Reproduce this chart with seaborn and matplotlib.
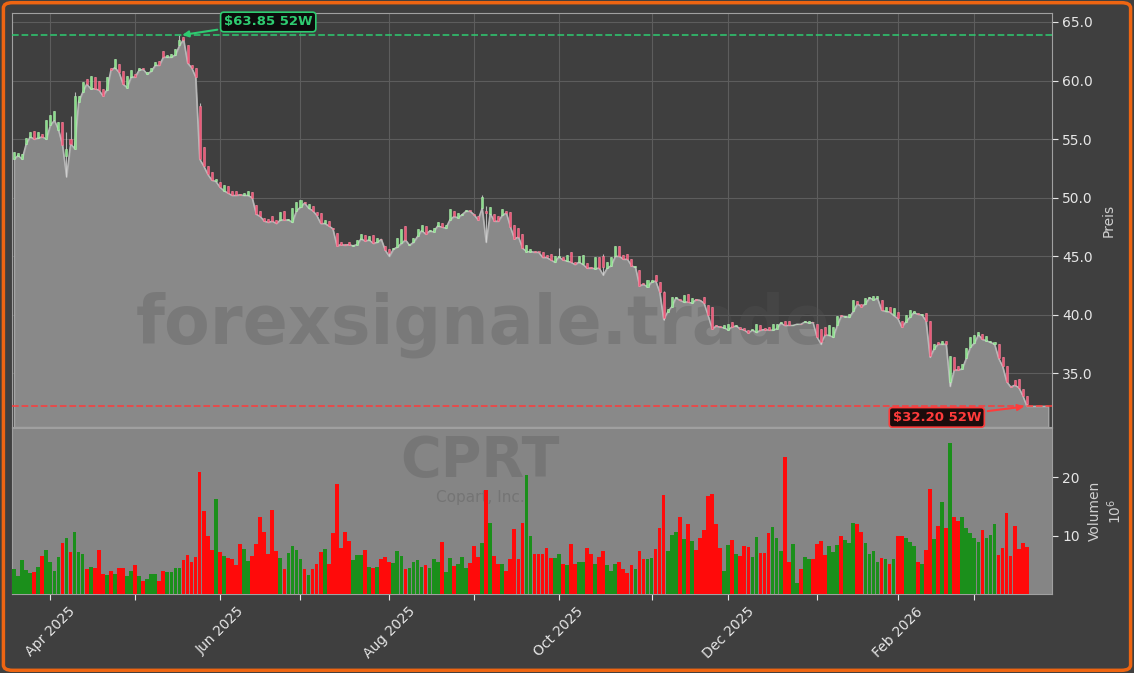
"""CPRT daily candles with volume panel, 52-week high/low marks."""
import matplotlib
matplotlib.use("Agg")
import matplotlib.pyplot as plt
import numpy as np
import pandas as pd
import seaborn as sns
from matplotlib.patches import FancyBboxPatch
from matplotlib.ticker import FuncFormatter, MultipleLocator

START, END = "2025-03-19", "2026-03-19"
HOLIDAYS = ["2025-04-18", "2025-05-26", "2025-06-19", "2025-07-04",
            "2025-09-01", "2025-11-27", "2025-12-25", "2026-01-01",
            "2026-01-19", "2026-02-16"]

OPENS = [
    53.3, 53.6, 53.3, 54.6, 55.2, 55.7, 55.1, 55.4, 55.0, 56.2,
    56.6, 55.8, 56.5, 53.6, 55.0, 54.2, 58.2, 59.0, 60.1, 59.3,
    60.3, 60.0, 59.3, 59.2, 61.1, 61.1, 61.4, 60.8, 59.4, 60.3,
    60.6, 60.9, 61.05, 60.55, 60.8, 61.3, 61.7, 62.5, 62.0, 62.0,
    62.2, 63.0, 63.7, 63.0, 61.3, 61.1, 57.8, 54.3, 52.7, 52.2,
    51.4, 51.3, 50.6, 51.0, 50.6, 50.6, 50.35, 50.2, 50.2, 50.5,
    49.4, 48.9, 48.3, 48.2, 48.4, 48.1, 48.1, 48.9, 48.1, 47.9,
    48.9, 49.2, 49.65, 49.1, 49.3, 48.8, 48.7, 47.8, 48.0, 47.45,
    47.0, 46.2, 46.05, 46.2, 45.9, 46.0, 46.5, 46.8, 46.4, 46.85,
    46.2, 46.5, 45.9, 45.6, 45.6, 45.8, 46.1, 47.6, 45.95, 46.2,
    46.7, 47.2, 47.6, 47.15, 47.1, 47.6, 47.85, 47.4, 48.1, 48.85,
    48.3, 48.55, 48.85, 48.9, 48.65, 48.4, 49.1, 48.9, 48.65, 48.6,
    48.4, 48.5, 48.9, 48.8, 47.65, 47.4, 46.9, 45.4, 45.4, 45.45,
    45.4, 45.4, 45.15, 45.2, 44.5, 44.95, 44.95, 44.6, 45.4, 44.5,
    44.5, 44.3, 44.4, 44.1, 43.95, 44.9, 45.0, 44.0, 44.2, 45.0,
    45.9, 45.15, 45.2, 44.75, 44.05, 43.8, 42.7, 42.4, 42.8, 43.4,
    42.8, 41.95, 40.25, 40.7, 41.45, 41.35, 41.1, 41.75, 41.0, 41.35,
    41.3, 41.5, 40.8, 40.7, 39.15, 39.05, 38.9, 38.7, 39.4, 39.05,
    39.0, 38.9, 38.7, 38.7, 38.5, 39.1, 38.9, 39.0, 38.7, 38.8,
    39.3, 39.45, 39.45, 39.1, 39.2, 39.25, 39.4, 39.3, 39.4, 39.25,
    38.8, 39.0, 38.25, 38.1, 39.1, 39.95, 39.85, 39.8, 40.3, 41.2,
    40.9, 40.95, 41.45, 41.3, 41.4, 41.3, 40.3, 40.7, 39.95, 40.25,
    39.5, 39.4, 39.8, 40.2, 40.15, 40.0, 40.2, 39.5, 37.1, 37.7,
    37.5, 37.8, 34.3, 36.4, 35.6, 35.4, 36.3, 37.25, 37.6, 38.3,
    38.4, 37.8, 37.65, 37.5, 37.5, 36.4, 35.6, 33.95, 34.4, 34.5,
    33.7, 33.1,
]
CLOSES = [
    53.9, 53.8, 53.7, 55.1, 55.6, 55.0, 55.6, 55.2, 56.6, 57.1,
    57.4, 56.5, 54.5, 54.2, 54.6, 58.7, 58.7, 59.9, 59.7, 60.4,
    59.3, 59.2, 58.7, 60.3, 60.9, 61.8, 60.7, 59.7, 60.4, 60.9,
    60.3, 61.1, 60.95, 60.75, 61.1, 61.6, 61.3, 62.0, 62.2, 62.3,
    62.7, 63.5, 63.5, 61.5, 61.1, 60.3, 53.3, 52.7, 52.0, 51.5,
    51.6, 50.9, 51.1, 50.4, 50.2, 50.2, 50.25, 50.4, 50.6, 50.0,
    48.6, 48.4, 48.0, 47.9, 48.0, 47.8, 48.8, 48.1, 48.2, 49.1,
    49.6, 49.8, 49.55, 49.5, 48.9, 48.5, 47.8, 48.1, 47.6, 47.35,
    45.9, 46.0, 45.95, 46.0, 46.0, 46.4, 46.9, 46.3, 46.7, 46.1,
    46.6, 46.45, 45.5, 45.3, 45.7, 46.6, 47.3, 46.4, 46.05, 46.6,
    47.3, 47.7, 46.9, 47.25, 47.4, 47.9, 47.5, 47.7, 49.0, 48.4,
    48.7, 48.65, 48.95, 48.85, 48.55, 48.1, 50.1, 48.7, 49.2, 48.0,
    48.0, 49.0, 48.7, 47.5, 46.5, 46.65, 45.7, 45.95, 45.65, 45.35,
    45.35, 44.9, 44.9, 44.7, 45.0, 45.0, 44.7, 45.15, 44.5, 44.3,
    45.0, 45.1, 44.0, 44.0, 44.95, 44.0, 44.1, 44.5, 44.9, 45.9,
    45.0, 44.75, 44.75, 44.2, 44.2, 42.5, 42.6, 43.0, 43.0, 42.9,
    41.95, 39.7, 40.5, 41.5, 41.55, 41.25, 41.7, 41.1, 41.4, 41.3,
    41.25, 41.0, 39.95, 38.8, 39.05, 38.95, 39.1, 39.2, 39.0, 39.1,
    38.8, 38.7, 38.45, 38.75, 39.25, 38.7, 38.75, 38.7, 39.2, 39.25,
    39.35, 39.1, 39.1, 39.15, 39.25, 39.2, 39.45, 39.5, 39.35, 38.1,
    37.7, 38.3, 39.1, 38.95, 39.9, 39.9, 39.9, 40.1, 41.3, 40.95,
    40.7, 41.4, 41.5, 41.6, 41.6, 40.4, 40.65, 40.25, 40.6, 39.7,
    38.96, 39.95, 40.4, 40.3, 40.05, 40.1, 39.5, 36.5, 37.5, 37.5,
    37.8, 37.5, 36.5, 35.3, 35.3, 35.8, 37.2, 38.1, 38.3, 38.5,
    37.9, 38.2, 37.75, 37.7, 36.3, 35.6, 34.3, 33.85, 34.0, 33.8,
    33.1, 32.35,
]
# longer wicks that stand out in the picture: index -> price
WICK_HIGHS = {13: 55.6, 14: 57.0, 15: 59.0, 41: 63.85, 42: 63.75, 46: 58.1,
              116: 50.25, 117: 49.3, 135: 45.7, 146: 45.2, 161: 42.0}
WICK_LOWS = {13: 51.8, 93: 45.0, 117: 46.2, 146: 43.4, 161: 39.6,
             200: 37.5, 227: 36.4, 232: 33.9, 251: 32.2}

VOLUME_M = [
    4.2, 3.0, 5.8, 4.1, 3.6, 3.7, 4.7, 6.5, 7.5, 5.4,
    3.9, 6.4, 8.7, 9.55, 7.2, 10.6, 7.2, 6.9, 4.2, 4.7,
    4.4, 7.5, 3.5, 3.3, 4.0, 3.5, 4.4, 4.5, 3.0, 4.0,
    4.9, 3.0, 2.3, 2.5, 3.4, 3.5, 2.3, 4.0, 3.8, 3.8,
    4.5, 4.5, 5.8, 6.7, 5.4, 6.4, 20.9, 14.2, 10.0, 7.5,
    16.3, 7.2, 6.5, 6.2, 6.0, 4.9, 8.5, 7.7, 5.6, 6.5,
    8.5, 13.2, 10.6, 6.8, 14.4, 7.3, 6.2, 4.2, 7.0, 8.2,
    7.5, 5.9, 4.2, 3.2, 4.2, 5.1, 7.2, 7.7, 5.1, 10.4,
    18.8, 7.9, 10.6, 9.0, 5.75, 6.7, 6.7, 7.5, 4.7, 4.5,
    4.7, 6.0, 6.3, 5.5, 5.25, 7.3, 6.5, 4.2, 4.4, 5.4,
    5.75, 4.7, 4.9, 4.5, 5.9, 5.5, 8.9, 3.7, 6.2, 4.75,
    5.1, 6.4, 4.5, 5.25, 8.2, 6.4, 8.7, 17.8, 12.2, 6.5,
    5.2, 5.2, 3.9, 5.9, 11.1, 6.0, 12.1, 20.3, 9.9, 6.9,
    6.9, 6.9, 7.9, 6.2, 6.2, 6.9, 5.2, 4.9, 8.5, 5.2,
    5.4, 5.4, 7.9, 6.9, 5.2, 6.4, 7.3, 4.9, 3.9, 5.2,
    5.4, 4.2, 3.6, 5.0, 4.2, 7.3, 6.0, 5.9, 6.2, 7.7,
    11.2, 16.9, 7.3, 10.1, 10.6, 13.2, 9.4, 11.9, 9.05, 7.5,
    9.6, 10.9, 16.8, 17.1, 11.9, 7.9, 3.9, 8.4, 9.2, 6.9,
    6.5, 8.2, 8.0, 6.4, 9.7, 7.0, 7.0, 10.4, 11.4, 9.6,
    7.3, 23.5, 5.5, 8.5, 1.8, 4.2, 6.4, 6.0, 5.9, 8.5,
    9.05, 6.7, 8.2, 7.2, 8.4, 9.9, 9.2, 8.7, 12.2, 11.9,
    10.6, 8.7, 6.9, 7.4, 5.5, 6.2, 5.9, 5.2, 5.9, 9.9,
    9.9, 9.6, 8.9, 8.2, 5.4, 5.2, 7.5, 17.9, 9.4, 11.6,
    15.7, 11.2, 25.8, 13.1, 12.4, 13.2, 11.2, 10.4, 9.6, 8.9,
    10.9, 9.6, 10.1, 11.9, 6.7, 7.9, 13.9, 6.5, 11.6, 7.7,
    8.7, 8.0,
]

BG = "#3f3f3f"
FILL = "#898989"
UP, DOWN = "#86e286", "#f04f72"
VOL_UP, VOL_DOWN = "#1b8f1b", "#ff0a0a"
HI_COLOR, LO_COLOR = "#2ecc71", "#ff3b3b"
TEXT = "#e6e6e6"

W, H = 1134, 673


def fig_rect(left, top, right, bottom):
    return [left / W, 1 - bottom / H, (right - left) / W, (bottom - top) / H]


def main():
    dates = pd.bdate_range(START, END).difference(pd.to_datetime(HOLIDAYS))
    o = np.array(OPENS)
    c = np.array(CLOSES)
    vol = np.array(VOLUME_M)
    n = len(c)
    assert len(dates) == n == len(o) == len(vol)
    x = np.arange(n)
    hi = np.maximum(o, c)
    lo = np.minimum(o, c)
    for i, v in WICK_HIGHS.items():
        hi[i] = v
    for i, v in WICK_LOWS.items():
        lo[i] = v
    up = c >= o

    sns.set_theme(style="dark", rc={"axes.facecolor": BG, "figure.facecolor": BG,
                                    "patch.edgecolor": "none"})
    plt.rcParams["font.family"] = ["DejaVu Sans"]

    fig = plt.figure(figsize=(W / 100, H / 100), dpi=100, facecolor=BG)
    ax = fig.add_axes(fig_rect(12, 13, 1052, 427))
    axv = fig.add_axes(fig_rect(12, 428, 1052, 594), sharex=ax)

    ymin, ymax = lo.min() * 0.945, hi.max() * 1.03
    ax.set_xlim(-0.5, n + 5.25)
    ax.set_ylim(ymin, ymax)

    # grey area under the lows, carried a few slots past the last candle
    x_fill = np.append(x, n + 4.3)
    lo_fill = np.append(lo, lo[-1])
    ax.fill_between(x_fill, lo_fill, ymin, color=FILL, edgecolor="#a3a3a3",
                    lw=1, zorder=1)
    sns.lineplot(x=x_fill, y=lo_fill, ax=ax, color="#b8b8b8", lw=1, zorder=2)

    ax.text(0.426, 0.517, "forexsignale.trade", transform=fig.transFigure,
            fontsize=48, fontweight="bold", color="#555555", alpha=0.3,
            ha="center", va="center", zorder=1.5)

    ax.vlines(x, lo, hi, color="#d6d6d6", lw=0.8, alpha=0.8, zorder=3)
    body = np.maximum(np.abs(c - o), 0.06)
    ax.bar(x, body, bottom=np.minimum(o, c), width=0.5,
           color=np.where(up, UP, DOWN),
           edgecolor=np.where(up, "#b6f5b6", "#ff8aa2"),
           lw=0.4, alpha=0.9, zorder=4)

    ax.axhline(hi.max(), color=HI_COLOR, ls="--", lw=1.3, alpha=0.85, zorder=5)
    ax.axhline(lo.min(), color=LO_COLOR, ls="--", lw=1.3, alpha=0.85, zorder=5)
    ax.annotate(f"${hi.max():.2f} 52W", xy=(int(np.argmax(hi)), hi.max()),
                xytext=(63, 65.0), color=HI_COLOR, fontsize=9.5, fontweight="bold",
                ha="center", va="center", zorder=6,
                bbox=dict(boxstyle="round,pad=0.25", fc="#0c0c0c", ec=HI_COLOR, lw=1.2),
                arrowprops=dict(arrowstyle="-|>", color=HI_COLOR, lw=1.5,
                                mutation_scale=9))
    ax.annotate(f"${lo.min():.2f} 52W", xy=(int(np.argmin(lo)), lo.min()),
                xytext=(228.7, 31.25), color=LO_COLOR, fontsize=9.5, fontweight="bold",
                ha="center", va="center", zorder=6,
                bbox=dict(boxstyle="round,pad=0.25", fc="#1c0c0c", ec=LO_COLOR, lw=1.2),
                arrowprops=dict(arrowstyle="-|>", color=LO_COLOR, lw=1.5,
                                mutation_scale=9))

    ax.yaxis.set_major_locator(MultipleLocator(5))
    ax.yaxis.set_major_formatter(FuncFormatter(lambda v, _: f"{v:.1f}"))
    ax.yaxis.tick_right()
    ax.yaxis.set_label_position("right")
    ax.set_ylabel("Preis", color="#cfcfcf", fontsize=10, labelpad=6)
    ax.tick_params(axis="y", colors=TEXT, labelsize=10, length=4, width=0.8)
    ax.tick_params(axis="x", length=0, labelbottom=False)
    ax.grid(True, color="#5d5d5d", lw=0.8)

    # volume panel
    axv.set_facecolor("#858585")
    axv.bar(x, vol, width=0.92, color=np.where(up, VOL_UP, VOL_DOWN),
            edgecolor="none", lw=0, zorder=3)
    axv.set_ylim(0, vol.max() * 1.1)
    axv.set_yticks([10, 20])
    axv.yaxis.tick_right()
    axv.yaxis.set_label_position("right")
    axv.set_ylabel("Volumen\n$10^{6}$", color="#cfcfcf", fontsize=10, labelpad=6)
    axv.tick_params(axis="y", colors=TEXT, labelsize=10, length=4, width=0.8)
    axv.grid(False)
    axv.text(0.45, 0.80, "CPRT", transform=axv.transAxes, fontsize=40,
             fontweight="bold", color="#555555", alpha=0.3, ha="center",
             va="center", zorder=1)
    axv.text(0.45, 0.58, "Copart, Inc.", transform=axv.transAxes, fontsize=11,
             color="#555555", alpha=0.35, ha="center", va="center", zorder=1)

    month_start = [i for i in range(1, n) if dates[i].month != dates[i - 1].month]
    labels = [dates[i].strftime("%b %Y") if dates[i].month % 2 == 0 else ""
              for i in month_start]
    axv.set_xticks(month_start)
    axv.set_xticklabels(labels, rotation=45, ha="center")
    axv.tick_params(axis="x", colors=TEXT, labelsize=10, length=4, width=0.8,
                    bottom=True)

    for a in (ax, axv):
        for s in a.spines.values():
            s.set_color("#a0a0a0")
            s.set_linewidth(0.8)

    fig.patches.append(FancyBboxPatch(
        (0.003, 0.004), 0.994, 0.992, boxstyle="round,pad=0,rounding_size=0.008",
        transform=fig.transFigure, fc="none", ec="#ee6512", lw=2.5))

    fig.savefig("out.png", dpi=100, facecolor=BG)
    plt.close(fig)


if __name__ == "__main__":
    main()
